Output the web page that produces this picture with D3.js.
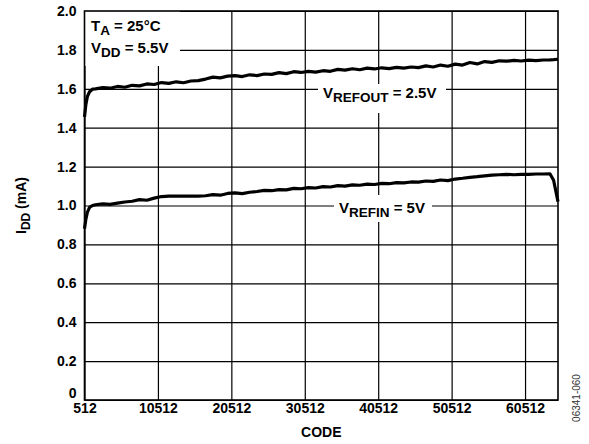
<!DOCTYPE html>
<html><head><meta charset="utf-8">
<script src="https://cdn.jsdelivr.net/npm/d3@7"></script>
<style>
body{margin:0;background:#fff;}
svg{display:block;font-family:"Liberation Sans",Arial,sans-serif;}
</style></head><body>
<svg id="chart" width="589" height="444"></svg>
<script>
// ---- data ----
const codes = [
  512,700,900,1200,1600,2000,3000,4000,5000,6000,
  7000,8000,9000,10000,11000,12000,13000,14000,15000,16000,
  17000,18000,19000,20000,21000,22000,23000,24000,25000,26000,
  27000,28000,29000,30000,31000,32000,33000,34000,35000,36000,
  37000,38000,39000,40000,41000,42000,43000,44000,45000,46000,
  47000,48000,49000,50000,51000,52000,53000,54000,55000,56000,
  57000,58000,59000,60000,61000,62000,63000,63900,64400,65000];
const vRefout = [
  1.455,1.52,1.56,1.585,1.598,1.600,1.606,1.603,1.612,1.608,
  1.618,1.615,1.625,1.622,1.632,1.628,1.636,1.631,1.640,1.642,
  1.650,1.660,1.656,1.665,1.668,1.663,1.672,1.668,1.676,1.674,
  1.683,1.678,1.688,1.684,1.690,1.686,1.693,1.690,1.700,1.696,
  1.703,1.698,1.706,1.702,1.708,1.704,1.710,1.706,1.712,1.709,
  1.718,1.712,1.722,1.716,1.727,1.722,1.735,1.728,1.740,1.736,
  1.744,1.742,1.746,1.743,1.747,1.745,1.748,1.749,1.750,1.752];
const vRefin = [
  0.88,0.93,0.965,0.99,1.000,1.004,1.008,1.006,1.012,1.018,
  1.022,1.030,1.027,1.038,1.046,1.048,1.048,1.048,1.048,1.048,
  1.050,1.056,1.053,1.062,1.065,1.061,1.068,1.072,1.078,1.076,
  1.082,1.080,1.088,1.086,1.092,1.090,1.097,1.095,1.102,1.100,
  1.106,1.104,1.110,1.108,1.114,1.112,1.118,1.116,1.121,1.120,
  1.126,1.124,1.131,1.128,1.136,1.140,1.145,1.148,1.152,1.156,
  1.158,1.160,1.158,1.160,1.160,1.162,1.162,1.163,1.13,1.02];
const xTicks = [512,10512,20512,30512,40512,50512,60512];
const yTicks = [0,0.2,0.4,0.6,0.8,1.0,1.2,1.4,1.6,1.8,2.0];
const xDomain = [512,65000];
const yDomain = [0,2.0];

// ---- layout ----
const L=84.5, R=558, T=11, B=400;
const svg = d3.select("#chart");
const x = d3.scaleLinear().domain(xDomain).range([L,R]);
const y = d3.scaleLinear().domain(yDomain).range([B,T]);

// gridlines
svg.append("g").attr("transform",`translate(0,${B})`)
  .call(d3.axisBottom(x).tickValues(xTicks).tickSize(-(B-T)).tickFormat(""))
  .call(g=>g.select(".domain").remove())
  .selectAll("line").attr("stroke","#000").attr("stroke-width",1.2);
svg.append("g").attr("transform",`translate(${L},0)`)
  .call(d3.axisLeft(y).tickValues(yTicks).tickSize(-(R-L)).tickFormat(""))
  .call(g=>g.select(".domain").remove())
  .selectAll("line").attr("stroke","#000").attr("stroke-width",1.2);

// white label boxes (break gridlines)
const boxes = [[L,T,180,66],[318,84,446,113],[334,195,432,222]];
boxes.forEach(b=>svg.append("rect").attr("x",b[0]).attr("y",b[1]).attr("width",b[2]-b[0]).attr("height",b[3]-b[1]).attr("fill","#fff"));

// lines
const line = d3.line().x((d,i)=>x(codes[i])).y(d=>y(d));
[vRefout,vRefin].forEach(s=>svg.append("path").datum(s).attr("d",line)
  .attr("fill","none").attr("stroke","#000").attr("stroke-width",3.2).attr("stroke-linejoin","round"));

// frame
svg.append("rect").attr("x",L).attr("y",T).attr("width",R-L).attr("height",B-T)
  .attr("fill","none").attr("stroke","#000").attr("stroke-width",1.6);

// tick labels
svg.append("g").attr("transform",`translate(0,${B})`)
  .call(d3.axisBottom(x).tickValues(xTicks).tickSize(0).tickPadding(3).tickFormat(d3.format("d")))
  .call(g=>g.select(".domain").remove())
  .selectAll("text").attr("font-family","Liberation Sans, Arial").attr("font-weight","bold").attr("font-size",14).attr("fill","#000");
const yl = svg.append("g").attr("transform",`translate(${L},0)`)
  .call(d3.axisLeft(y).tickValues(yTicks).tickSize(0).tickPadding(8).tickFormat(d=>d===0?"0":d3.format(".1f")(d)))
  .call(g=>g.select(".domain").remove());
yl.selectAll("text").attr("font-family","Liberation Sans, Arial").attr("font-weight","bold").attr("font-size",14).attr("fill","#000");
yl.selectAll(".tick").filter(d=>d===0).select("text").attr("dy","-0.15em");

// axis titles
svg.append("text").attr("x",(L+R)/2).attr("y",437).attr("text-anchor","middle")
  .attr("font-weight","bold").attr("font-size",14).text("CODE");
const yt = svg.append("text").attr("transform",`translate(26,${(T+B)/2}) rotate(-90)`).attr("text-anchor","middle")
  .attr("font-weight","bold").attr("font-size",14);
yt.append("tspan").text("I");
yt.append("tspan").attr("font-size",12).attr("dy",4).text("DD");
yt.append("tspan").attr("dy",-4).text(" (mA)");

function sublabel(xp,yp,main,sub,rest){
  const t = svg.append("text").attr("x",xp).attr("y",yp).attr("font-weight","bold").attr("font-size",15);
  t.append("tspan").text(main);
  t.append("tspan").attr("font-size",13.5).attr("dy",4).text(sub);
  t.append("tspan").attr("dy",-4).text(rest);
}
sublabel(91,31,"T","A"," = 25°C");
sublabel(91,53,"V","DD"," = 5.5V");
sublabel(323,98,"V","REFOUT"," = 2.5V");
sublabel(339,213,"V","REFIN"," = 5V");

// figure id
svg.append("text").attr("transform","translate(580,398) rotate(-90)").attr("text-anchor","middle")
  .attr("font-size",10).attr("fill","#333").text("06341-060");
</script></body></html>
